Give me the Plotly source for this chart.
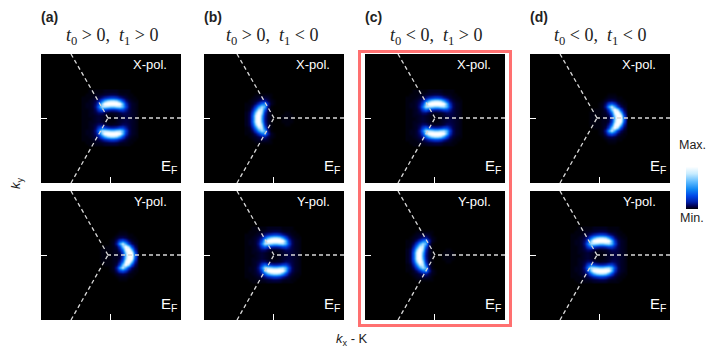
import plotly.graph_objects as go

W, H = 719, 354

# Momentum grid around the K point (arbitrary k units)
grid_k = [-27, -24, -21, -18, -15, -12, -9, -6, -3, 0, 3, 6, 9, 12, 15, 18, 21, 24, 27]

# Upper half of each symmetric intensity map, rows from ky=0 to ky=27 (estimated, % of max)
lobes_half = [
    [1, 1, 1, 2, 3, 4, 3, 2, 1, 1, 1, 2, 3, 4, 5, 4, 3, 2, 1],
    [1, 1, 2, 2, 3, 4, 3, 2, 1, 1, 1, 2, 3, 4, 5, 4, 3, 2, 1],
    [1, 1, 2, 3, 5, 9, 9, 5, 3, 2, 3, 3, 5, 8, 7, 5, 3, 2, 1],
    [1, 1, 2, 3, 8, 22, 34, 24, 18, 15, 15, 18, 24, 24, 14, 6, 3, 2, 1],
    [1, 2, 2, 4, 12, 38, 70, 72, 68, 62, 62, 68, 70, 55, 25, 8, 3, 2, 1],
    [1, 2, 2, 4, 9, 25, 62, 92, 100, 100, 100, 100, 88, 56, 20, 7, 3, 2, 1],
    [1, 1, 2, 3, 6, 13, 32, 52, 66, 72, 72, 66, 48, 26, 10, 4, 2, 1, 1],
    [1, 1, 1, 2, 3, 5, 10, 16, 20, 24, 24, 20, 13, 8, 4, 2, 1, 1, 0],
    [0, 1, 1, 1, 2, 2, 3, 4, 5, 6, 6, 5, 3, 2, 2, 1, 1, 0, 0],
    [0, 0, 1, 1, 1, 1, 1, 2, 2, 2, 2, 2, 1, 1, 1, 1, 0, 0, 0],
]
crescent_left_half = [
    [2, 7, 34, 80, 100, 52, 12, 3, 1, 0, 0, 0, 1, 1, 1, 1, 0, 0, 0],
    [2, 7, 34, 80, 100, 56, 14, 3, 1, 0, 0, 0, 1, 1, 1, 1, 0, 0, 0],
    [2, 6, 26, 66, 97, 70, 18, 4, 1, 0, 0, 0, 0, 1, 1, 0, 0, 0, 0],
    [1, 3, 16, 44, 76, 76, 32, 5, 1, 0, 0, 0, 0, 0, 0, 0, 0, 0, 0],
    [1, 2, 8, 24, 50, 68, 55, 11, 1, 0, 0, 0, 0, 0, 0, 0, 0, 0, 0],
    [1, 1, 3, 9, 20, 35, 42, 16, 3, 1, 0, 0, 0, 0, 0, 0, 0, 0, 0],
    [0, 1, 2, 3, 6, 11, 13, 6, 2, 1, 0, 0, 0, 0, 0, 0, 0, 0, 0],
    [0, 0, 1, 2, 3, 4, 4, 3, 1, 0, 0, 0, 0, 0, 0, 0, 0, 0, 0],
    [0, 0, 0, 1, 1, 1, 1, 1, 1, 0, 0, 0, 0, 0, 0, 0, 0, 0, 0],
    [0, 0, 0, 0, 0, 0, 0, 0, 0, 0, 0, 0, 0, 0, 0, 0, 0, 0, 0],
]
crescent_right_half = [
    [0, 0, 0, 0, 0, 0, 1, 1, 1, 1, 2, 2, 4, 18, 62, 98, 98, 38, 8],
    [0, 0, 0, 0, 0, 0, 1, 1, 1, 1, 2, 2, 5, 22, 68, 100, 90, 30, 6],
    [0, 0, 0, 0, 0, 0, 1, 1, 1, 1, 2, 3, 12, 36, 85, 98, 60, 16, 4],
    [0, 0, 0, 0, 0, 0, 0, 1, 1, 1, 2, 6, 22, 62, 90, 70, 28, 8, 2],
    [0, 0, 0, 0, 0, 0, 0, 0, 0, 1, 3, 14, 50, 75, 50, 22, 8, 3, 1],
    [0, 0, 0, 0, 0, 0, 0, 0, 0, 1, 2, 9, 24, 30, 20, 8, 3, 1, 1],
    [0, 0, 0, 0, 0, 0, 0, 0, 0, 0, 1, 3, 6, 7, 5, 2, 1, 1, 0],
    [0, 0, 0, 0, 0, 0, 0, 0, 0, 0, 0, 1, 2, 2, 2, 1, 1, 0, 0],
    [0, 0, 0, 0, 0, 0, 0, 0, 0, 0, 0, 0, 1, 1, 1, 0, 0, 0, 0],
    [0, 0, 0, 0, 0, 0, 0, 0, 0, 0, 0, 0, 0, 0, 0, 0, 0, 0, 0],
]

# Which map belongs to which panel
panel_letters = ["(a)", "(b)", "(c)", "(d)"]
panel_titles = [
    "<i>t</i><sub>0</sub> > 0,  <i>t</i><sub>1</sub> > 0",
    "<i>t</i><sub>0</sub> > 0,  <i>t</i><sub>1</sub> < 0",
    "<i>t</i><sub>0</sub> < 0,  <i>t</i><sub>1</sub> > 0",
    "<i>t</i><sub>0</sub> < 0,  <i>t</i><sub>1</sub> < 0",
]
x_pol_maps = ["lobes", "left", "lobes", "right"]
y_pol_maps = ["right", "lobes", "left", "lobes"]
pol_labels = ["X-pol.", "Y-pol."]

# Brillouin-zone boundary rays meeting at K, one vertex per column
vertex_kx = [-2, 1, 1, -2]
ray_end_right = 71
ray_end_left = -37
ray_end_up = 64
ray_end_down = -65

# Layout in pixels
col_left = [41, 204, 365, 530]
row_top = [54, 191]
panel_w, panel_h = 140, 129
k_from_left, k_from_top = 69, 64
title_cx = [112, 272, 436, 600]

colorscale = [
    [0.0, "#000000"], [0.02, "#00001e"], [0.06, "#000050"], [0.15, "#0020a8"],
    [0.28, "#0048e8"], [0.42, "#1088f4"], [0.58, "#60bcff"], [0.75, "#c8ecff"], [0.9, "#ffffff"],
    [1.0, "#ffffff"],
]


def full(half):
    return half[:0:-1] + half


maps = {
    "lobes": full(lobes_half),
    "left": full(crescent_left_half),
    "right": full(crescent_right_half),
}
grid_ky = grid_k


def px_x(p):
    return p / W


def px_y(p):
    return 1 - p / H


fig = go.Figure()
anns = []


def text(x, y, s, size, color="#222222", family="Liberation Sans", xanchor="center", angle=0):
    anns.append(dict(xref="paper", yref="paper", x=px_x(x), y=px_y(y), text=s, showarrow=False,
                     font=dict(size=size, color=color, family=family), xanchor=xanchor,
                     yanchor="middle", textangle=angle, borderpad=0, borderwidth=0))


n = 0
layout_axes = {}
for c, left in enumerate(col_left):
    text(left, 17, f"<b>{panel_letters[c]}</b>", 14, xanchor="left")
    text(title_cx[c], 37, panel_titles[c], 18, family="Liberation Serif")
    v = vertex_kx[c]
    ray_x = [ray_end_right, v, None, ray_end_left + v, v, None, ray_end_left + v, v]
    ray_y = [0, 0, None, ray_end_up, 0, None, ray_end_down, 0]
    for r, top in enumerate(row_top):
        n += 1
        xa, ya = ("x", "y") if n == 1 else (f"x{n}", f"y{n}")
        name = (x_pol_maps if r == 0 else y_pol_maps)[c]
        fig.add_trace(go.Heatmap(x=grid_k, y=grid_ky, z=maps[name], coloraxis="coloraxis",
                                 zsmooth="best", xaxis=xa, yaxis=ya, hoverinfo="skip"))
        fig.add_trace(go.Scatter(x=ray_x, y=ray_y, mode="lines", xaxis=xa, yaxis=ya,
                                 line=dict(color="#d8d8d8", width=1.3, dash="4px,3px"),
                                 showlegend=False, hoverinfo="skip"))
        suffix = "" if n == 1 else str(n)
        common = dict(showgrid=False, zeroline=False, showticklabels=False, ticks="inside",
                      ticklen=6, tickwidth=1, tickcolor="white", tickmode="array", tickvals=[0],
                      showline=False)
        layout_axes["xaxis" + suffix] = dict(
            domain=[px_x(left), px_x(left + panel_w)],
            range=[-k_from_left, panel_w - k_from_left], anchor=ya, **common)
        layout_axes["yaxis" + suffix] = dict(
            domain=[px_y(top + panel_h), px_y(top)],
            range=[-(panel_h - k_from_top), k_from_top], anchor=xa, **common)
        text(left + 109, top + 10, pol_labels[r], 13, color="white")
        text(left + 128, top + 113, "E<sub>F</sub>", 15, color="white")

text(17, 183, "<i>k</i><sub>y</sub>", 13, angle=-90)
text(352, 339, "<i>k</i><sub>x</sub> - K", 13)
text(692, 145, "Max.", 12.5)
text(692, 218, "Min.", 12.5)

frame = dict(type="rect", xref="paper", yref="paper",
             x0=px_x(359.5), x1=px_x(510.5), y0=px_y(325.5), y1=px_y(51.5),
             line=dict(color="#ff7070", width=3), fillcolor="rgba(0,0,0,0)")

fig.update_layout(
    width=W, height=H, margin=dict(l=0, r=0, t=0, b=0), autosize=False,
    paper_bgcolor="white", plot_bgcolor="black", showlegend=False,
    annotations=anns, shapes=[frame],
    coloraxis=dict(
        colorscale=colorscale, cmin=0, cmax=100,
        colorbar=dict(thickness=12, thicknessmode="pixels", len=47, lenmode="pixels",
                      x=px_x(686), xanchor="left", xpad=0, ypad=0,
                      y=px_y(185.5), yanchor="middle", outlinewidth=0, borderwidth=0,
                      showticklabels=False, ticks=""),
    ),
    **layout_axes,
)
fig.write_html("out.html", config={"displayModeBar": False},
               post_script="document.body.style.margin='0';")
